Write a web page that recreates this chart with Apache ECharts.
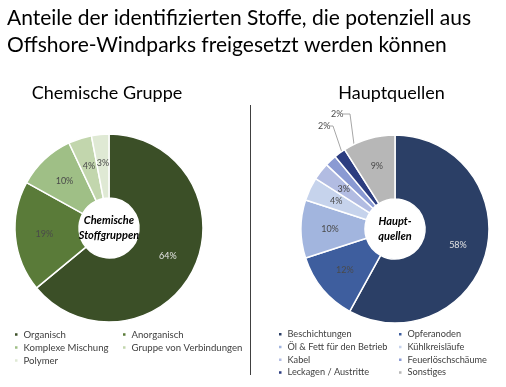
<!DOCTYPE html>
<html><head><meta charset="utf-8">
<script src="https://cdn.jsdelivr.net/npm/echarts@6/dist/echarts.min.js"></script>
<style>html,body{margin:0;padding:0;background:#fff}#c{width:506px;height:387px}</style>
</head><body><div id="c"></div>
<script>
const titleLines = ['Anteile der identifizierten Stoffe, die potenziell aus', 'Offshore-Windparks freigesetzt werden können'];
const leftTitle = 'Chemische Gruppe';
const rightTitle = 'Hauptquellen';
const leftCenter = 'Chemische\nStoffgruppen';
const rightCenter = 'Haupt-\nquellen';

const chemCategories = ['Organisch', 'Anorganisch', 'Komplexe Mischung', 'Gruppe von Verbindungen', 'Polymer'];
const chemValues = [64, 19, 10, 4, 3];
const chemColors = ['#3b4f27', '#5a7b39', '#9fbf86', '#c2d6ad', '#dfe9d4'];

const srcCategories = ['Beschichtungen', 'Opferanoden', 'Öl & Fett für den Betrieb', 'Kühlkreisläufe', 'Kabel', 'Feuerlöschschäume', 'Leckagen / Austritte', 'Sonstiges'];
const srcValues = [58, 12, 10, 4, 3, 2, 2, 9];
const srcColors = ['#2b3f66', '#3e5e9e', '#a2b5de', '#c6d3ec', '#b2bce2', '#8a9ad3', '#2c3d80', '#b7b7b7'];

const FONT = 'Lato';
const LC = [109, 228], RC = [395, 229], R0 = 30, R1 = 94;

function midPoint(values, idx, center, r) {
  const total = values.reduce((a, b) => a + b, 0);
  let acc = 0;
  for (let k = 0; k < idx; k++) acc += values[k];
  const a = (acc + values[idx] / 2) / total * 2 * Math.PI;
  return [center[0] + r * Math.sin(a), center[1] - r * Math.cos(a)];
}

const chart = echarts.init(document.getElementById('c'), null, {renderer: 'canvas'});

const chemData = chemCategories.map((n, i) => ({
  name: n, value: chemValues[i], itemStyle: {color: chemColors[i]},
  label: {color: i === 0 ? '#e4e4e4' : '#4a4a4a'}
}));
const srcData = srcCategories.map((n, i) => {
  const d = {name: n, value: srcValues[i], itemStyle: {color: srcColors[i]},
    label: {color: i === 0 ? '#e4e4e4' : '#4a4a4a'}};
  if (i === 5 || i === 6) {
    d.label = {position: 'outside', color: '#4a4a4a'};
    d.labelLine = {show: true, lineStyle: {color: '#a6a6a6', width: 1}};
  }
  return d;
});

function legend(items, left, top, fs, lh) {
  return {data: items.map(n => ({name: n, icon: 'rect'})), orient: 'vertical', left: left, top: top,
    itemWidth: 4.5, itemHeight: 4.5, itemGap: 0,
    textStyle: {fontFamily: FONT, fontSize: fs, lineHeight: lh, color: '#404040'},
    padding: 0, selectedMode: false};
}

chart.setOption({
  animation: false,
  title: [
    {text: titleLines.join('\n'), left: 7, top: 5, padding: 0,
      textStyle: {fontFamily: FONT, fontSize: 21, fontWeight: 'normal', color: '#000', lineHeight: 27}},
    {text: leftTitle, left: 107, top: 84, textAlign: 'center', padding: 0,
      textStyle: {fontFamily: FONT, fontSize: 18, fontWeight: 'normal', color: '#000'}},
    {text: rightTitle, left: 391.5, top: 84, textAlign: 'center', padding: 0,
      textStyle: {fontFamily: FONT, fontSize: 18, fontWeight: 'normal', color: '#000'}}
  ],
  legend: [
    legend([chemCategories[0], chemCategories[2], chemCategories[4]], 13, 328, 9.6, 13),
    legend([chemCategories[1], chemCategories[3]], 121, 328, 9.6, 13),
    legend([srcCategories[0], srcCategories[2], srcCategories[4], srcCategories[6]], 277, 328, 9.2, 12.7),
    legend([srcCategories[1], srcCategories[3], srcCategories[5], srcCategories[7]], 397, 328, 9.2, 12.7)
  ],
  graphic: [
    {type: 'line', shape: {x1: 250.5, y1: 105, x2: 250.5, y2: 375}, style: {stroke: '#404040', lineWidth: 1}},
    {type: 'text', x: LC[0], y: LC[1], style: {text: leftCenter, fontFamily: FONT, fontSize: 11, fontWeight: 'bold', fontStyle: 'italic', fill: '#000', align: 'center', verticalAlign: 'middle', lineHeight: 15}, z: 100},
    {type: 'text', x: RC[0], y: RC[1], style: {text: rightCenter, fontFamily: FONT, fontSize: 11, fontWeight: 'bold', fontStyle: 'italic', fill: '#000', align: 'center', verticalAlign: 'middle', lineHeight: 15}, z: 100}
  ],
  series: [
    {type: 'pie', center: LC, radius: [R0, R1], startAngle: 90, clockwise: true,
      data: chemData, itemStyle: {borderColor: '#fff', borderWidth: 1.5},
      label: {position: 'inside', formatter: '{c}%', fontFamily: FONT, fontSize: 9},
      labelLine: {show: false}, emphasis: {disabled: true}},
    {type: 'pie', center: RC, radius: [R0, R1], startAngle: 90, clockwise: true,
      data: srcData, itemStyle: {borderColor: '#fff', borderWidth: 1.5},
      label: {position: 'inside', formatter: '{c}%', fontFamily: FONT, fontSize: 9},
      labelLine: {show: false}, emphasis: {disabled: true},
      labelLayout: function (p) {
        if (p.dataIndex === 5) {
          const s = midPoint(srcValues, 5, RC, 62);
          return {x: RC[0] - 77, y: RC[1] - 103, align: 'left', verticalAlign: 'middle',
            labelLinePoints: [s, [RC[0] - 62, RC[1] - 103], [RC[0] - 65, RC[1] - 103]]};
        }
        if (p.dataIndex === 6) {
          const s = midPoint(srcValues, 6, RC, 62);
          return {x: RC[0] - 64, y: RC[1] - 115, align: 'left', verticalAlign: 'middle',
            labelLinePoints: [s, [RC[0] - 45, RC[1] - 115], [RC[0] - 52, RC[1] - 115]]};
        }
        return {};
      }}
  ]
});
</script></body></html>
